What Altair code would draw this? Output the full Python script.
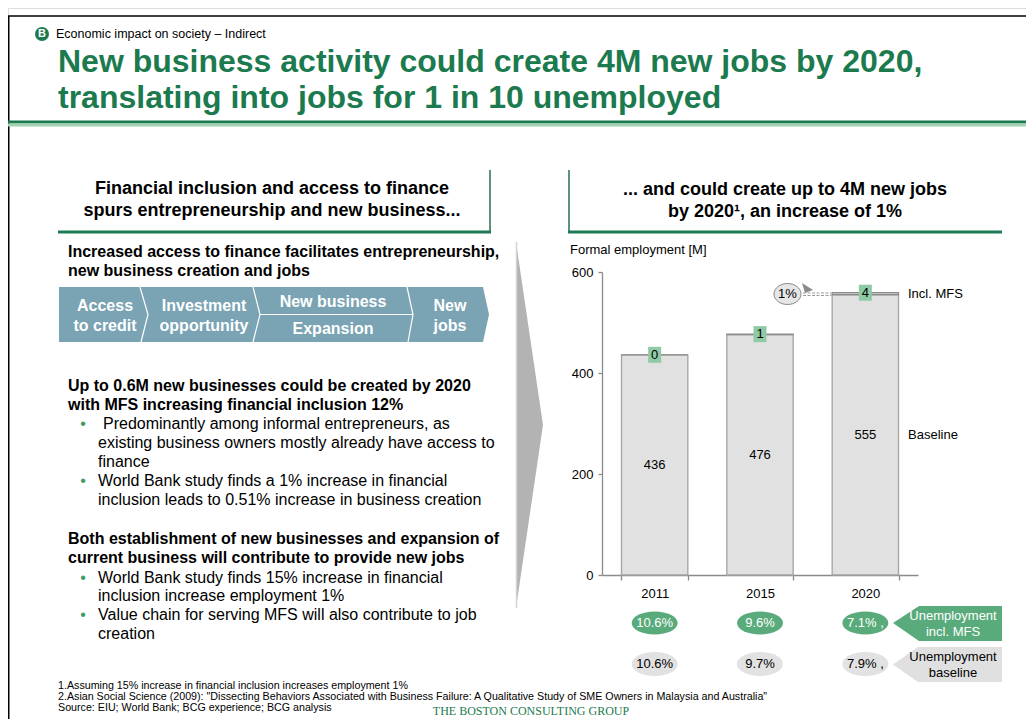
import altair as alt
import pandas as pd

# ---------------- data ----------------
years = ["2011", "2015", "2020"]
baseline = [436, 476, 555]
mfs_jobs = [0, 1, 4]
unemp_mfs = [10.6, 9.6, 7.1]
unemp_base = [10.6, 9.7, 7.9]
unemp_note = ["", "", " ,"]
y_ticks = [0, 200, 400, 600]

title_lines = ["New business activity could create 4M new jobs by 2020,",
               "translating into jobs for 1 in 10 unemployed"]
left_head = ["Financial inclusion and access to finance",
             "spurs entrepreneurship and new business..."]
right_head = ["... and could create up to 4M new jobs",
              "by 2020\u00b9, an increase of 1%"]
footnotes = ["1.Assuming 15% increase in financial inclusion increases employment 1%",
             "2.Asian Social Science (2009): \"Dissecting Behaviors Associated with Business Failure: A Qualitative Study of SME Owners in Malaysia and Australia\"",
             "Source: EIU; World Bank; BCG experience; BCG analysis"]

# ---------------- layout helpers ----------------
O = 8
W, H = 1018, 711
FONT = "Liberation Sans"
GREEN_T = "#1c7a4f"
GREEN_L = "#1d7a55"
GREEN_E = "#5aab7b"
GREEN_BOX = "#8fcaa4"
CHEV = "#7aa3b4"


def px(v):
    return v - O


one = pd.DataFrame({"k": [0]})
layers = []


def text(s, x, y, size=16, weight="normal", color="#000000", align="left",
         baseline="middle", font=FONT):
    layers.append(
        alt.Chart(one).mark_text(text=s, font=font, fontSize=size, fontWeight=weight,
                                 color=color, align=align, baseline=baseline)
        .encode(x=alt.value(px(x)), y=alt.value(px(y)))
    )


def path_d(points, close=True):
    d = "M " + " L ".join(f"{px(a):.2f} {px(b):.2f}" for a, b in points)
    return d + (" Z" if close else "")


def shape(d, fill=None, stroke=None, sw=1.0, dash=None):
    kw = dict(shape=d, size=4, opacity=1)
    if fill is not None:
        kw.update(filled=True, fill=fill)
    else:
        kw.update(filled=False)
    if stroke is not None:
        kw.update(stroke=stroke, strokeWidth=sw)
    else:
        kw.update(strokeWidth=0)
    if dash is not None:
        kw.update(strokeDash=dash)
    layers.append(alt.Chart(one).mark_point(**kw).encode(x=alt.value(0), y=alt.value(0)))


def poly(points, fill=None, stroke=None, sw=1.0, close=True, dash=None):
    shape(path_d(points, close), fill, stroke, sw, dash)


def ell_abs(cx, cy, rx, ry):
    cx, cy = px(cx), px(cy)
    return (f"M {cx-rx} {cy} A {rx} {ry} 0 1 1 {cx+rx} {cy} "
            f"A {rx} {ry} 0 1 1 {cx-rx} {cy} Z")


def ell_rel(rx, ry):
    return f"M {-rx} 0 A {rx} {ry} 0 1 1 {rx} 0 A {rx} {ry} 0 1 1 {-rx} 0 Z"


# ---------------- slide frame & title ----------------
poly([(0, 16), (1040, 16)], stroke="#000000", sw=1.5, close=False)
poly([(8.75, 16), (8.75, 740)], stroke="#000000", sw=1.5, close=False)
poly([(0, 120.5), (1040, 120.5), (1040, 123.5), (0, 123.5)], fill="#1b7a52")
poly([(0, 123.5), (1040, 123.5), (1040, 126.5), (0, 126.5)], fill="#a3d3b0")

layers.append(alt.Chart(one).mark_point(shape="circle", size=196, filled=True, fill=GREEN_T, opacity=1)
              .encode(x=alt.value(px(42)), y=alt.value(px(34))))
text("B", 42, 34, size=11, weight="bold", color="#ffffff", align="center")
text("Economic impact on society \u2013 Indirect", 56, 34, size=12.5)
text(title_lines[0], 58, 72, size=32, weight="bold", color=GREEN_T, baseline="alphabetic")
text(title_lines[1], 58, 108, size=32, weight="bold", color=GREEN_T, baseline="alphabetic")

# ---------------- left panel ----------------
poly([(490, 170), (490, 232)], stroke="#2a6e50", sw=1.5, close=False)
poly([(58, 230.5), (491, 230.5), (491, 233.5), (58, 233.5)], fill=GREEN_L)
text(left_head[0], 272, 189, size=18, weight="bold", align="center")
text(left_head[1], 272, 211, size=18, weight="bold", align="center")

text("Increased access to finance facilitates entrepreneurship,", 68, 252, size=16, weight="bold")
text("new business creation and jobs", 68, 271, size=16, weight="bold")

poly([(59, 287), (483, 287), (489, 314.5), (483, 342), (59, 342)], fill=CHEV)
poly([(140, 287), (148, 314.5), (141, 342)], stroke="#ffffff", sw=1.2, close=False)
poly([(253, 287), (260, 314.5), (253, 342)], stroke="#ffffff", sw=1.2, close=False)
poly([(407, 287), (413, 314.5), (408, 342)], stroke="#ffffff", sw=1.2, close=False)
poly([(260, 314.5), (413, 314.5)], stroke="#ffffff", sw=1.2, close=False)
for s, x, y in [("Access", 105, 306), ("to credit", 105, 326),
                ("Investment", 204, 306), ("opportunity", 204, 326),
                ("New business", 333, 302), ("Expansion", 333, 329),
                ("New", 450, 306), ("jobs", 450, 326)]:
    text(s, x, y, size=16, weight="bold", color="#ffffff", align="center")

text("Up to 0.6M new businesses could be created by 2020", 68, 386, size=16, weight="bold")
text("with MFS increasing financial inclusion 12%", 68, 405, size=16, weight="bold")
for y in [424, 481, 578, 615]:
    text("\u2022", 83, y, size=16, color="#3f9a68", align="center")
text("Predominantly among informal entrepreneurs, as", 103, 424, size=16)
for s, y in [("existing business owners mostly already have access to", 443),
             ("finance", 462),
             ("World Bank study finds a 1% increase in financial", 481),
             ("inclusion leads to 0.51% increase in business creation", 500),
             ("World Bank study finds 15% increase in financial", 578),
             ("inclusion increase employment 1%", 596),
             ("Value chain for serving MFS will also contribute to job", 615),
             ("creation", 634)]:
    text(s, 98, y, size=16)
text("Both establishment of new businesses and expansion of", 68, 539, size=16, weight="bold")
text("current business will contribute to provide new jobs", 68, 558, size=16, weight="bold")

# big grey arrow
poly([(516, 242), (543, 425), (516, 608)], fill="#b3b3b3")
poly([(516.5, 242), (516.5, 608)], stroke="#d4d4d4", sw=1.5, close=False)

# ---------------- right panel ----------------
poly([(569, 170), (569, 232)], stroke="#2a6e50", sw=1.5, close=False)
poly([(568, 230.5), (1002, 230.5), (1002, 233.5), (568, 233.5)], fill=GREEN_L)
text(right_head[0], 785, 190, size=18, weight="bold", align="center")
text(right_head[1], 785, 212, size=18, weight="bold", align="center")
text("Formal employment [M]", 570, 250, size=13)

df = pd.DataFrame({"year": years, "baseline": baseline, "mfs": mfs_jobs,
                   "um": unemp_mfs, "ub": unemp_base, "note": unemp_note})
base = alt.Chart(df).transform_calculate(
    total="datum.baseline + datum.mfs",
    mid="datum.baseline / 2",
    um_lab="format(datum.um, '.1f') + '%' + datum.note",
    ub_lab="format(datum.ub, '.1f') + '%' + datum.note",
)

xs = alt.Scale(domain=years, range=[px(602), px(918)], paddingInner=0.37, paddingOuter=0.185)
ys = alt.Scale(domain=[0, 600], range=[px(575), px(272)], nice=False, zero=True)
xax = alt.Axis(title=None, grid=False, orient="bottom", offset=px(575) - H, tickBand="extent",
               tickSize=5, tickColor="#8a8a8a", domainColor="#8a8a8a", domainWidth=1.3,
               tickWidth=1.3, labelFont=FONT, labelFontSize=13, labelColor="#000000",
               labelPadding=7, labelAngle=0)
yax = alt.Axis(title=None, grid=False, orient="left", values=y_ticks, offset=-px(602),
               tickSize=4, tickColor="#8a8a8a", domainColor="#8a8a8a", domainWidth=1.3,
               tickWidth=1.3, labelFont=FONT, labelFontSize=13, labelColor="#000000",
               labelPadding=5)
X = alt.X("year:N", scale=xs, axis=xax)


def Y(field):
    return alt.Y(f"{field}:Q", scale=ys, axis=yax, stack=None)


layers.append(base.mark_bar(fill="#e1e1e1", stroke="#a3a3a3", strokeWidth=1.3)
              .encode(x=X, y=Y("baseline")))
layers.append(base.mark_bar(fill="#d0d0d0", stroke="#8d8d8d", strokeWidth=1.3)
              .encode(x=X, y=Y("total"), y2="baseline:Q"))
layers.append(base.mark_text(font=FONT, fontSize=13, color="#000000")
              .encode(x=X, y=Y("mid"), text="baseline:Q"))
layers.append(base.mark_point(shape="M -6.5 -8 L 6.5 -8 L 6.5 8 L -6.5 8 Z", size=4,
                              filled=True, fill=GREEN_BOX, opacity=1)
              .encode(x=X, y=Y("total")))
layers.append(base.mark_text(font=FONT, fontSize=13, color="#000000")
              .encode(x=X, y=Y("total"), text="mfs:Q"))

# 1% bubble
poly([(802, 283), (813, 290), (805, 293)], fill="#8a8a8a")
poly([(803, 293), (831, 293)], stroke="#9a9a9a", sw=1, close=False, dash=[3, 1.5])
poly([(803, 295.5), (831, 295.5)], stroke="#9a9a9a", sw=1, close=False, dash=[3, 1.5])
shape(ell_abs(787.5, 294, 13.5, 10.5), fill="#e6e6e6", stroke="#8a8a8a", sw=1)
text("1%", 787.5, 294, size=13, align="center")

text("Incl. MFS", 908, 294, size=13)
text("Baseline", 908, 435, size=13)

# unemployment rows
layers.append(base.mark_point(shape=ell_rel(23, 11.5), size=4, filled=True, fill=GREEN_E, opacity=1)
              .encode(x=X, y=alt.value(px(623))))
layers.append(base.mark_text(font=FONT, fontSize=13, color="#ffffff")
              .encode(x=X, y=alt.value(px(623)), text="um_lab:N"))
layers.append(base.mark_point(shape=ell_rel(23, 12), size=4, filled=True, fill="#e2e2e2", opacity=1)
              .encode(x=X, y=alt.value(px(664))))
layers.append(base.mark_text(font=FONT, fontSize=13, color="#000000")
              .encode(x=X, y=alt.value(px(664)), text="ub_lab:N"))

poly([(893, 623), (919, 606), (1002, 606), (1002, 641), (919, 641)], fill=GREEN_E)
text("Unemployment", 953, 616, size=13, color="#ffffff", align="center")
text("incl. MFS", 953, 632, size=13, color="#ffffff", align="center")
poly([(893, 664.5), (918, 647), (1002, 647), (1002, 682), (918, 682)], fill="#e0e0e0")
text("Unemployment", 953, 657, size=13, color="#000000", align="center")
text("baseline", 953, 673, size=13, color="#000000", align="center")

# footnotes
for s, y in zip(footnotes, [686, 697, 708]):
    text(s, 58, y, size=10.7)
text("THE BOSTON CONSULTING GROUP", 531, 718, size=12, color=GREEN_T, align="center",
     baseline="bottom", font="Liberation Serif")

chart = alt.layer(*layers).properties(
    width=W, height=H, padding=0,
    autosize=alt.AutoSizeParams(type="none"),
).configure_view(strokeWidth=0).configure(background="#ffffff")

chart.save("out.html", embed_options={"renderer": "svg", "actions": False})
